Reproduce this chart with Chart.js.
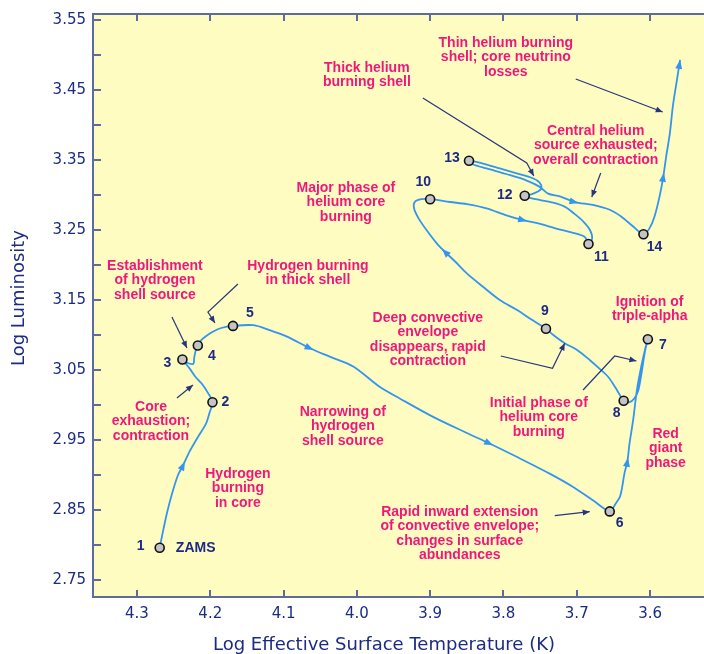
<!DOCTYPE html>
<html>
<head>
<meta charset="utf-8">
<script src="https://cdn.jsdelivr.net/npm/chart.js@4.4.0/dist/chart.umd.min.js"></script>
<style>
  html, body { margin: 0; padding: 0; background: #fff; }
  #wrap { width: 704px; height: 654px; }
</style>
</head>
<body>
<div id="wrap"><canvas id="hrChart" width="704" height="654"></canvas></div>
<script>
// evolutionary track: log Teff and log L
let trackT = [
  4.269, 4.265, 4.259, 4.252, 4.244, 4.237, 4.228, 4.217, 4.206, 4.201,
  4.197, 4.203, 4.212, 4.220, 4.228, 4.238, 4.231, 4.223, 4.222, 4.220,
  4.217, 4.212, 4.205, 4.196, 4.185, 4.169, 4.141, 4.119, 4.096, 4.064,
  4.037, 4.005, 3.969, 3.941, 3.896, 3.850, 3.819, 3.782, 3.737, 3.705,
  3.678, 3.655, 3.647, 3.641, 3.638, 3.635, 3.631, 3.628, 3.623, 3.618,
  3.612, 3.606, 3.603, 3.607, 3.612, 3.616, 3.621, 3.628, 3.636, 3.641,
  3.648, 3.657, 3.669, 3.682, 3.700, 3.716, 3.732, 3.742, 3.760, 3.782,
  3.805, 3.828, 3.850, 3.866, 3.880, 3.891, 3.905, 3.916, 3.922, 3.921,
  3.912, 3.900, 3.873, 3.850, 3.823, 3.796, 3.773, 3.751, 3.728, 3.705,
  3.689, 3.684, 3.679, 3.682, 3.691, 3.703, 3.716, 3.732, 3.751, 3.764,
  3.771, 3.762, 3.753, 3.748, 3.751, 3.760, 3.782, 3.805, 3.828, 3.847,
  3.842, 3.823, 3.796, 3.769, 3.751, 3.739, 3.723, 3.703, 3.678, 3.655,
  3.639, 3.623, 3.609, 3.601, 3.594, 3.587, 3.582, 3.578, 3.573, 3.569,
  3.564, 3.559
];
let trackL = [
  2.796, 2.817, 2.846, 2.874, 2.900, 2.914, 2.934, 2.954, 2.973, 2.989,
  3.004, 3.017, 3.031, 3.040, 3.052, 3.065, 3.060, 3.059, 3.067, 3.077,
  3.085, 3.093, 3.099, 3.105, 3.110, 3.113, 3.114, 3.107, 3.098, 3.081,
  3.069, 3.055, 3.026, 3.009, 2.983, 2.960, 2.945, 2.926, 2.902, 2.883,
  2.864, 2.848, 2.859, 2.869, 2.883, 2.902, 2.919, 2.945, 2.979, 3.021,
  3.055, 3.083, 3.094, 3.076, 3.043, 3.021, 3.010, 3.004, 3.006, 3.014,
  3.026, 3.040, 3.052, 3.064, 3.079, 3.088, 3.100, 3.109, 3.121, 3.136,
  3.150, 3.169, 3.188, 3.205, 3.219, 3.231, 3.250, 3.267, 3.281, 3.290,
  3.294, 3.294, 3.290, 3.287, 3.281, 3.271, 3.264, 3.259, 3.252, 3.246,
  3.240, 3.230, 3.238, 3.250, 3.262, 3.273, 3.283, 3.289, 3.293, 3.296,
  3.299, 3.301, 3.305, 3.310, 3.318, 3.324, 3.331, 3.338, 3.345, 3.349,
  3.344, 3.338, 3.330, 3.321, 3.312, 3.302, 3.298, 3.290, 3.286, 3.279,
  3.269, 3.255, 3.244, 3.252, 3.269, 3.298, 3.326, 3.355, 3.388, 3.426,
  3.460, 3.493
];

// numbered evolutionary stages (indices into the track)
let stageAt = [0, 10, 15, 20, 25, 41, 52, 58, 67, 81, 91, 100, 109, 122];
let stageNames = ['1', '2', '3', '4', '5', '6', '7', '8', '9', '10', '11', '12', '13', '14'];
// where the direction arrows sit on the track
let arrowAt = [5, 29, 36, 46, 74, 86, 117, 126];

let tempTicks = [4.3, 4.2, 4.1, 4.0, 3.9, 3.8, 3.7, 3.6];
let lumTicks = [2.75, 2.80, 2.85, 2.90, 2.95, 3.00, 3.05, 3.10, 3.15,
                3.20, 3.25, 3.30, 3.35, 3.40, 3.45, 3.50, 3.55];

// pixel offsets of the stage numbers from their markers
let stageLabelOffset = [[-19, -2], [13, 0], [-15, 4], [14, 11], [17, -13], [10, 12], [15, 6],
  [-7, 12], [-1, -18], [-7, -17], [13, 13], [-20, -1], [-17, -3], [11, 13]];

let notes = [
  { text: ['Establishment', 'of hydrogen', 'shell source'], t: 4.2755, l: 3.1986 },
  { text: ['Hydrogen burning', 'in thick shell'], t: 4.0668, l: 3.1986 },
  { text: ['Core', 'exhaustion;', 'contraction'], t: 4.2809, l: 2.9971 },
  { text: ['Hydrogen', 'burning', 'in core'], t: 4.1623, l: 2.9014 },
  { text: ['Narrowing of', 'hydrogen', 'shell source'], t: 4.0191, l: 2.99 },
  { text: ['Deep convective', 'envelope', 'disappears, rapid', 'contraction'], t: 3.9032, l: 3.1243 },
  { text: ['Rapid inward extension', 'of convective envelope;', 'changes in surface', 'abundances'], t: 3.8596, l: 2.8471 },
  { text: ['Initial phase of', 'helium core', 'burning'], t: 3.7518, l: 3.0029 },
  { text: ['Red', 'giant', 'phase'], t: 3.5787, l: 2.9586 },
  { text: ['Ignition of', 'triple-alpha'], t: 3.6005, l: 3.1471 },
  { text: ['Major phase of', 'helium core', 'burning'], t: 4.015, l: 3.31 },
  { text: ['Thick helium', 'burning shell'], t: 3.9864, l: 3.4814 },
  { text: ['Thin helium burning', 'shell; core neutrino', 'losses'], t: 3.7968, l: 3.5171 },
  { text: ['Central helium', 'source exhausted;', 'overall contraction'], t: 3.6741, l: 3.3914 }
];

// pointer lines from the notes to the track
let pointers = [
  { t: [4.2523, 4.2318], l: [3.1257, 3.0814] },
  { t: [4.1623, 4.2032, 4.1936], l: [3.1729, 3.1329, 3.1171] },
  { t: [4.2455, 4.2236], l: [3.01, 3.0286] },
  { t: [3.8036, 3.7331, 3.7164], l: [3.07, 3.0524, 3.0881] },
  { t: [3.6914, 3.6482, 3.6186], l: [3.0214, 3.07, 3.0629] },
  { t: [3.73, 3.6823], l: [2.8419, 2.8476] },
  { t: [3.91, 3.7682, 3.7586], l: [3.4386, 3.3457, 3.3271] },
  { t: [3.7014, 3.5827], l: [3.4657, 3.4186] },
  { t: [3.6673, 3.6795], l: [3.3314, 3.2971] }
];

const axisColor = '#5d6b9e';
const navy = '#1c2b82';
const pink = '#f0177a';
const trackColor = '#3396ee';

function head(ctx, x, y, ang, len, half) {
  const bx = x - Math.cos(ang) * len, by = y - Math.sin(ang) * len;
  ctx.beginPath();
  ctx.moveTo(x, y);
  ctx.lineTo(bx + Math.sin(ang) * half, by - Math.cos(ang) * half);
  ctx.lineTo(bx - Math.sin(ang) * half, by + Math.cos(ang) * half);
  ctx.closePath();
  ctx.fill();
}

const decorations = {
  id: 'decorations',
  beforeDraw(chart) {
    const { ctx, chartArea: a } = chart;
    ctx.save();
    ctx.fillStyle = '#fff';
    ctx.fillRect(0, 0, chart.width, chart.height);
    ctx.fillStyle = '#fffcc2';
    ctx.fillRect(a.left, a.top, a.right - a.left, a.bottom - a.top);
    ctx.restore();
  },
  afterDatasetsDraw(chart) {
    const { ctx } = chart;
    const xs = chart.scales.x, ys = chart.scales.y;
    const px = v => xs.getPixelForValue(v), py = v => ys.getPixelForValue(v);
    ctx.save();

    // direction arrows on the track
    ctx.fillStyle = trackColor;
    arrowAt.forEach(i => {
      const ang = Math.atan2(py(trackL[i + 1]) - py(trackL[i - 1]), px(trackT[i + 1]) - px(trackT[i - 1]));
      head(ctx, px(trackT[i]) + Math.cos(ang) * 4, py(trackL[i]) + Math.sin(ang) * 4, ang, 9, 3.5);
    });
    const n = trackT.length - 1;
    const endAng = Math.atan2(py(trackL[n]) - py(trackL[n - 1]), px(trackT[n]) - px(trackT[n - 1]));
    head(ctx, px(trackT[n]), py(trackL[n]), endAng, 9, 3.5);

    // pointer lines
    ctx.strokeStyle = '#27357d';
    ctx.fillStyle = '#27357d';
    ctx.lineWidth = 1.2;
    pointers.forEach(p => {
      ctx.beginPath();
      p.t.forEach((t, k) => {
        if (k === 0) ctx.moveTo(px(t), py(p.l[k]));
        else ctx.lineTo(px(t), py(p.l[k]));
      });
      ctx.stroke();
      const k = p.t.length - 1;
      const ang = Math.atan2(py(p.l[k]) - py(p.l[k - 1]), px(p.t[k]) - px(p.t[k - 1]));
      head(ctx, px(p.t[k]), py(p.l[k]), ang, 7, 3);
    });

    // notes
    ctx.fillStyle = pink;
    ctx.font = 'bold 14px "Liberation Sans", Arial, sans-serif';
    ctx.textAlign = 'center';
    ctx.textBaseline = 'middle';
    notes.forEach(nt => {
      nt.text.forEach((line, k) => ctx.fillText(line, px(nt.t), py(nt.l) + k * 14.5));
    });

    // stage numbers
    ctx.fillStyle = navy;
    stageAt.forEach((idx, k) => {
      const off = stageLabelOffset[k];
      ctx.fillText(stageNames[k], px(trackT[idx]) + off[0], py(trackL[idx]) + off[1]);
    });
    ctx.fillText('ZAMS', px(trackT[stageAt[0]]) + 36, py(trackL[stageAt[0]]));
    ctx.restore();
  },
  afterDraw(chart) {
    const { ctx, chartArea: a } = chart;
    const xs = chart.scales.x, ys = chart.scales.y;
    ctx.save();
    ctx.strokeStyle = axisColor;
    ctx.lineWidth = 2;
    ctx.beginPath();
    ctx.moveTo(a.left - 1, a.top);
    ctx.lineTo(a.right, a.top);
    lumTicks.forEach(v => {
      const y = Math.round(ys.getPixelForValue(v));
      ctx.moveTo(a.left, y);
      ctx.lineTo(a.left + 8, y);
    });
    tempTicks.forEach(v => {
      const x = Math.round(xs.getPixelForValue(v));
      ctx.moveTo(x, a.bottom);
      ctx.lineTo(x, a.bottom - 7);
      ctx.moveTo(x, a.top);
      ctx.lineTo(x, a.top + 7);
    });
    ctx.stroke();

    // axis titles
    ctx.fillStyle = navy;
    ctx.font = '18px "DejaVu Sans", sans-serif';
    ctx.textAlign = 'center';
    ctx.textBaseline = 'middle';
    ctx.fillText('Log Effective Surface Temperature (K)', 384, 645);
    ctx.translate(19, 298);
    ctx.rotate(-Math.PI / 2);
    ctx.fillText('Log Luminosity', 0, 0);
    ctx.restore();
  }
};

const ctx = document.getElementById('hrChart').getContext('2d');
const hrChart = new Chart(ctx, {
  type: 'scatter',
  data: {
    datasets: [{
      label: 'track',
      data: trackT.map((t, i) => ({ x: t, y: trackL[i] })),
      showLine: true,
      borderColor: trackColor,
      borderWidth: 1.8,
      pointRadius: 0,
      tension: 0.3,
      fill: false,
      order: 2
    }, {
      label: 'stages',
      data: stageAt.map(i => ({ x: trackT[i], y: trackL[i] })),
      pointRadius: 4.5,
      pointBackgroundColor: '#c4c4c4',
      pointBorderColor: '#111',
      pointBorderWidth: 1.6,
      order: 1
    }]
  },
  options: {
    responsive: false,
    animation: false,
    devicePixelRatio: 1,
    layout: { autoPadding: false, padding: { top: 14, right: 0, bottom: 0, left: 0 } },
    plugins: { legend: { display: false }, tooltip: { enabled: false } },
    scales: {
      x: {
        type: 'linear',
        reverse: true,
        min: 3.5264,
        max: 4.36,
        afterBuildTicks: s => { s.ticks = tempTicks.map(v => ({ value: v })); },
        afterFit: s => { s.height = 57; s.paddingLeft = 0; s.paddingRight = 0; },
        grid: { display: false, drawTicks: false },
        border: { display: true, color: axisColor, width: 2 },
        ticks: {
          color: navy,
          font: { family: 'DejaVu Sans', size: 15 },
          padding: 8,
          maxRotation: 0,
          autoSkip: false,
          callback: v => v.toFixed(1)
        }
      },
      y: {
        type: 'linear',
        min: 2.7257,
        max: 3.5586,
        afterBuildTicks: s => { s.ticks = lumTicks.map(v => ({ value: v })); },
        afterFit: s => { s.width = 93; s.paddingTop = 0; s.paddingBottom = 0; },
        grid: { display: false, drawTicks: false },
        border: { display: true, color: axisColor, width: 2 },
        ticks: {
          color: navy,
          font: { family: 'DejaVu Sans', size: 15 },
          padding: 7,
          autoSkip: false,
          callback: v => (Math.round(v * 100) % 10 === 5 ? v.toFixed(2) : '')
        }
      }
    }
  },
  plugins: [decorations]
});
</script>
</body>
</html>
